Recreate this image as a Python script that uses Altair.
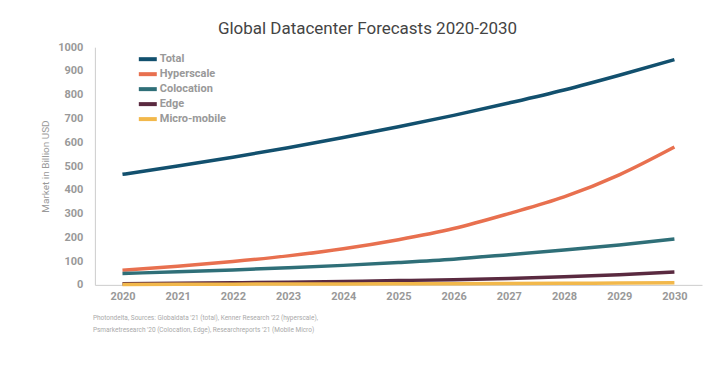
import altair as alt
import pandas as pd

years = [str(y) for y in range(2020, 2031)]
series = ["Total", "Hyperscale", "Colocation", "Edge", "Micro-mobile"]
total = [465, 500, 537, 577, 620, 665, 713, 765, 820, 882, 948]
hyperscale = [62, 78, 98, 122, 152, 190, 237, 300, 370, 463, 580]
colocation = [48, 55, 63, 72, 82, 94, 108, 127, 147, 168, 193]
edge = [5, 7, 9, 11, 14, 18, 22, 27, 34, 43, 54]
micro = [2, 2.5, 3, 3.5, 4, 4.5, 5, 5.5, 6.5, 7.5, 9]
colors = ["#12506e", "#e8704f", "#2f6f78", "#5a2a40", "#f2b84b"]
y_ticks = [0, 100, 200, 300, 400, 500, 600, 700, 800, 900, 1000]
footnote = [
    "Photondelta, Sources:  Globaldata '21 (total), Kenner Research '22 (hyperscale),",
    "Psmarketresearch '20 (Colocation, Edge), Researchreports '21 (Mobile Micro)",
]

rows = []
for name, vals in zip(series, [total, hyperscale, colocation, edge, micro]):
    for yr, v in zip(years, vals):
        rows.append({"Year": yr, "Series": name, "Value": v})
df = pd.DataFrame(rows)

W, H = 608, 238

lines = alt.Chart(df).mark_line(strokeWidth=3.5, interpolate="monotone").encode(
    x=alt.X("Year:O", sort=years, scale=alt.Scale(padding=0.5),
            axis=alt.Axis(title=None, labelAngle=0, labelFontSize=11, labelFontWeight="bold",
                          labelColor="#999999", labelPadding=6, ticks=False,
                          domainColor="#cccccc", labelFont="Roboto")),
    y=alt.Y("Value:Q", scale=alt.Scale(domain=[0, 1000], nice=False),
            axis=alt.Axis(title="Market in Billion USD", values=y_ticks, grid=False, format="d",
                          labelFontSize=11, labelFontWeight="bold", labelColor="#999999",
                          labelPadding=12, ticks=False, domainColor="#cccccc",
                          titleColor="#999999", titleFontSize=10, titleFontWeight="normal",
                          titlePadding=7, labelFont="Roboto", titleFont="Roboto")),
    color=alt.Color("Series:N", scale=alt.Scale(domain=series, range=colors),
                    legend=alt.Legend(title=None, orient="none", legendX=46, legendY=5,
                                      symbolType="M-1.8,0L1.8,0", symbolSize=100,
                                      symbolStrokeWidth=4,
                                      labelFontSize=11, labelColor="#999999",
                                      labelFontWeight="bold", labelFont="Roboto",
                                      labelOffset=5, rowPadding=-1, padding=0)),
    order=alt.Order("Series:N"),
)

foot = alt.Chart(pd.DataFrame({"t": ["\n".join(footnote)]})).mark_text(
    align="left", baseline="top", fontSize=6.5, color="#aaaaaa", lineBreak="\n",
    lineHeight=12, font="Roboto"
).encode(text="t:N", x=alt.value(-2), y=alt.value(H + 30))

chart = alt.layer(lines, foot).properties(
    width=W, height=H,
    title=alt.TitleParams("Global Datacenter Forecasts 2020-2030", fontSize=17,
                          fontWeight="normal", color="#444444", font="Roboto",
                          anchor="middle", dx=-31, offset=3),
    autosize=alt.AutoSizeParams(type="none"),
    padding={"left": 87, "top": 39, "right": 10, "bottom": 80},
).configure_view(stroke=None)

chart.save("out.html", embed_options={"renderer": "svg", "actions": False})
